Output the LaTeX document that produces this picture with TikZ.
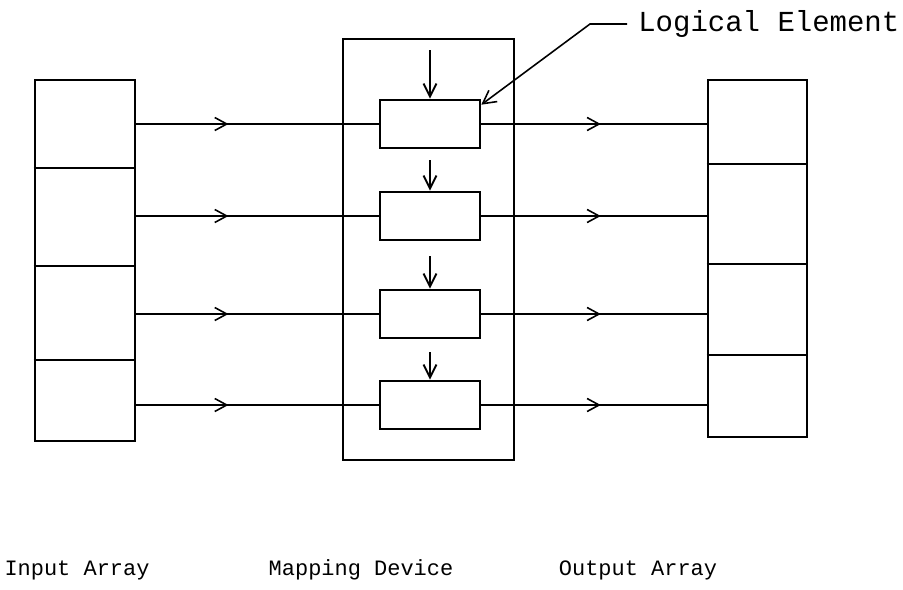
\documentclass[tikz,border=0pt]{standalone}
\usepackage{fontspec}
\usepackage{tikz}
\usetikzlibrary{arrows.meta, positioning, decorations.markings}
\newfontfamily\typefont{Liberation Mono}

\begin{document}
\begin{tikzpicture}[
    x=0.02cm, y=-0.02cm,
    frame/.style={rectangle, draw=black, line width=1.5pt, inner sep=0pt},
    element/.style={frame, minimum width=2cm, minimum height=0.96cm},
    wire/.style={line width=0.9pt},
    midarrow/.style={wire, postaction={decorate}, decoration={markings, mark=at position #1 with {\arrow{Straight Barb[length=2.4mm, width=2.6mm]}}}},
    feed/.style={line width=1.1pt, -{Straight Barb[length=2.6mm, width=2.6mm]}},
    caption/.style={font=\typefont\fontsize{12.5}{15}\selectfont}
]
\useasboundingbox (0,0) rectangle (903,589);

% arrays and mapping device
\node[frame, minimum width=2cm, minimum height=7.22cm] (inarr) at (85,260.5) {};
\node[frame, minimum width=1.98cm, minimum height=7.14cm] (outarr) at (757.5,258.5) {};
\node[frame, minimum width=3.42cm, minimum height=8.42cm] (mapdev) at (428.5,249.5) {};
\foreach \y in {168,266,360}
    \draw[wire] (inarr.west |- 0,\y) -- (inarr.east |- 0,\y);
\foreach \y in {164,264,355}
    \draw[wire] (outarr.west |- 0,\y) -- (outarr.east |- 0,\y);

% logical elements
\node[element] (el1) at (430,124) {};
\node[element] (el2) at (430,216) {};
\node[element] (el3) at (430,314) {};
\node[element] (el4) at (430,405) {};

\coordinate (src1) at (430,50);
\coordinate (src2) at (430,160);
\coordinate (src3) at (430,256);
\coordinate (src4) at (430,352);

\foreach \i in {1,...,4} {
    \draw[midarrow=0.38] (inarr.east |- el\i.west) -- (el\i.west);
    \draw[midarrow=0.53] (el\i.east) -- (outarr.west |- el\i.east);
    \draw[feed] (src\i) -- (el\i.north);
}

% labels
\node[font=\typefont\fontsize{16.5}{20}\selectfont, anchor=west, inner xsep=0.22cm] (lelab) at (627,24) {Logical Element};
\coordinate (bend) at (590,24);
\draw[wire, -{Straight Barb[length=2.6mm, width=2.8mm]}] (lelab.west) -- (bend) -- ([yshift=-0.12cm]el1.north east);

\node[caption] (inlab) at (77,570) {Input Array};
\node[caption] (maplab) at (361,570) {Mapping Device};
\node[caption] (outlab) at (638,570) {Output Array};
\end{tikzpicture}
\end{document}
